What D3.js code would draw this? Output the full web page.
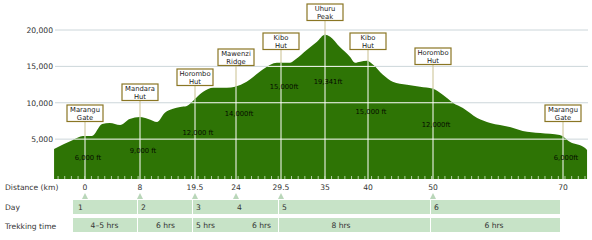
<!DOCTYPE html>
<html lang="en">
<head>
<meta charset="UTF-8">
<title>Kilimanjaro Marangu route profile</title>
<script src="https://d3js.org/d3.v7.min.js"></script>
<style>
  body { margin: 0; background: #fff; }
  svg { display: block; font-family: "DejaVu Sans", Verdana, sans-serif; }
  .axis-label { font-size: 7.6px; fill: #333; }
  .box-text { font-size: 6.8px; fill: #222; }
  .elev-text { font-size: 6.8px; fill: #050c00; }
</style>
</head>
<body>
<svg width="592" height="240"></svg>
<script>
// ---- data ----
const profileKm = [-4.5, -1.75, -0.3, 1.0, 2.5, 3.6, 5.1, 6.5, 8.0, 9.7, 11.6, 13.2, 14.9, 16.4, 17.8,
  19.5, 20.4, 21.5, 23.0, 23.9, 25.3, 26.9, 28.2, 29.0, 30.6, 31.25, 32.75, 34.0, 35.0, 35.6, 36.7,
  37.9, 38.5, 39.1, 39.9, 40.8, 42.3, 43.8, 46.0, 48.0, 50.0, 51.5, 53.1, 54.6, 56.8, 58.8, 61.8,
  63.8, 66.5, 69.5, 71.1, 73.4, 73.7];
const profileFt = [3650, 4890, 5440, 5440, 7090, 7230, 6950, 7780, 8055, 7780, 7370, 8610, 9160, 9430, 9570,
  10530, 11500, 12050, 12050, 12190, 12870, 14250, 15220, 15490, 15490, 15900, 17280, 18380, 19340, 19070, 17690,
  16320, 15490, 15630, 15770, 15220, 13840, 12870, 12460, 12190, 11910, 11090, 9980, 9290, 7920, 7230, 6680,
  6130, 5850, 5580, 4610, 3790, 3510];

const waypointKm = [0, 8, 19.5, 24, 29.5, 35, 40, 50, 70];
const waypointNames = [["Marangu", "Gate"], ["Mandara", "Hut"], ["Horombo", "Hut"], ["Mawenzi", "Ridge"],
  ["Kibo", "Hut"], ["Uhuru", "Peak"], ["Kibo", "Hut"], ["Horombo", "Hut"], ["Marangu", "Gate"]];
const elevationLabels = ["6,000 ft", "9,000 ft", "12,000 ft", "14,000ft", "15,000ft", "19,341ft",
  "15,000 ft", "12,000ft", "6,000ft"];
const distanceLabels = ["0", "8", "19.5", "24", "29.5", "35", "40", "50", "70"];

const yTicks = [5000, 10000, 15000, 20000];

const dayNumbers = [1, 2, 3, 4, 5, 6];
const dayStartKm = [0, 8, 19.5, 24, 29.5, 50];
const trekTimes = ["4\u20135 hrs", "6 hrs", "5 hrs", "6 hrs", "8 hrs", "6 hrs"];
// boxes in the table rows (start km, end km)
const rowBoxes = [[0, 8], [8, 19.5], [19.5, 29.5], [29.5, 50], [50, 70]];

// ---- layout (pixels) ----
const labelBoxTop = [105, 84, 69, 49, 33, 4, 33, 48, 105];
const elevLabelY = [160, 153, 135, 116, 89, 84, 114, 127, 160];
const trekDx = [-2, -2, -10, 3, -16, -4];

const svg = d3.select("svg");
const plotBottom = 179;

const x = d3.scaleLinear()
  .domain(waypointKm)
  .range([85, 140, 195, 236, 281, 325, 368, 433, 563]);
const y = d3.scaleLinear().domain([0, 20000]).range([175.5, 30]);

const pts = profileKm.map((k, i) => [k, profileFt[i]]);
const area = d3.area()
  .x(d => x(d[0]))
  .y0(plotBottom)
  .y1(d => y(d[1]))
  .curve(d3.curveMonotoneX);

svg.append("clipPath").attr("id", "mountain")
  .append("path").attr("d", area(pts));

// gridlines (outside the mountain)
svg.append("g").selectAll("line").data(yTicks).join("line")
  .attr("x1", 55).attr("x2", 588)
  .attr("y1", d => y(d)).attr("y2", d => y(d))
  .attr("stroke", "#ccd6da").attr("stroke-width", 1);

svg.append("g").selectAll("text").data(yTicks).join("text")
  .attr("class", "axis-label")
  .attr("x", 53).attr("y", d => y(d) + 3)
  .attr("text-anchor", "end")
  .text(d => d3.format(",")(d));

// connector lines from boxes down
svg.append("g").selectAll("line").data(waypointKm).join("line")
  .attr("x1", d => x(d)).attr("x2", d => x(d))
  .attr("y1", (d, i) => labelBoxTop[i] + 16).attr("y2", plotBottom)
  .attr("stroke", "#c9c08f").attr("stroke-width", 1);

// mountain
svg.append("path").attr("d", area(pts)).attr("fill", "#2e7405");

// white grid inside mountain
const inner = svg.append("g").attr("clip-path", "url(#mountain)");
inner.selectAll("line.h").data(yTicks).join("line").attr("class", "h")
  .attr("x1", 40).attr("x2", 592)
  .attr("y1", d => y(d)).attr("y2", d => y(d))
  .attr("stroke", "#fff").attr("stroke-width", 1);
inner.selectAll("line.v").data(waypointKm).join("line").attr("class", "v")
  .attr("x1", d => x(d)).attr("x2", d => x(d))
  .attr("y1", 0).attr("y2", plotBottom)
  .attr("stroke", "#fff").attr("stroke-width", 1);
// minor ticks along the bottom
inner.selectAll("line.t").data(d3.range(x(-4.5) + 4, x(73.7), 6.67)).join("line").attr("class", "t")
  .attr("x1", d => d).attr("x2", d => d)
  .attr("y1", plotBottom - 3).attr("y2", plotBottom)
  .attr("stroke", "#d8e8d0").attr("stroke-width", 0.8);

// elevation labels
svg.append("g").selectAll("text").data(elevationLabels).join("text")
  .attr("class", "elev-text")
  .attr("x", (d, i) => x(waypointKm[i]) + 3)
  .attr("y", (d, i) => elevLabelY[i])
  .attr("text-anchor", "middle")
  .text(d => d);

// waypoint boxes
const boxes = svg.append("g").selectAll("g").data(waypointNames).join("g")
  .attr("transform", (d, i) => `translate(${x(waypointKm[i])},${labelBoxTop[i]})`);
boxes.append("rect")
  .attr("x", -18).attr("y", 0).attr("width", 36).attr("height", 16.5)
  .attr("fill", "#fff").attr("stroke", "#8a7624").attr("stroke-width", 1.2);
boxes.selectAll("text").data(d => d).join("text")
  .attr("class", "box-text")
  .attr("x", 0).attr("y", (d, j) => 7 + j * 7.8)
  .attr("text-anchor", "middle")
  .text(d => d);

// bottom table
svg.append("text").attr("class", "axis-label").attr("x", 5).attr("y", 190).text("Distance (km)");
svg.append("text").attr("class", "axis-label").attr("x", 5).attr("y", 210).text("Day");
svg.append("text").attr("class", "axis-label").attr("x", 5).attr("y", 229).text("Trekking time");

svg.append("g").selectAll("text").data(distanceLabels).join("text")
  .attr("class", "axis-label")
  .attr("x", (d, i) => x(waypointKm[i]))
  .attr("y", 190)
  .attr("text-anchor", "middle")
  .text(d => d);

svg.append("g").selectAll("path").data(dayStartKm).join("path")
  .attr("d", d => `M${x(d) - 3},199 L${x(d) + 3},199 L${x(d)},193 Z`)
  .attr("fill", "#b9d6b9");

const boxLeft = (k, i) => i === 0 ? 73 : x(k) - 2;
const boxRight = k => x(k) + 1;
[200, 218].forEach(top => {
  svg.append("g").selectAll("rect").data(rowBoxes).join("rect")
    .attr("x", (d, i) => boxLeft(d[0], i))
    .attr("y", top)
    .attr("width", (d, i) => boxRight(d[1]) - boxLeft(d[0], i) - 4)
    .attr("height", 14)
    .attr("fill", "#c7e3c7");
});

svg.append("g").selectAll("text").data(dayNumbers).join("text")
  .attr("class", "axis-label")
  .attr("x", (d, i) => i === 0 ? 78 : x(dayStartKm[i]) + 1)
  .attr("y", 210)
  .text(d => d);

const dayEndKm = dayStartKm.slice(1).concat([70]);
svg.append("g").selectAll("text").data(trekTimes).join("text")
  .attr("class", "axis-label")
  .attr("x", (d, i) => {
    const l = i === 0 ? 73 : x(dayStartKm[i]);
    return (l + x(dayEndKm[i])) / 2 + trekDx[i];
  })
  .attr("y", 228)
  .attr("text-anchor", "middle")
  .text(d => d);
</script>
</body>
</html>
